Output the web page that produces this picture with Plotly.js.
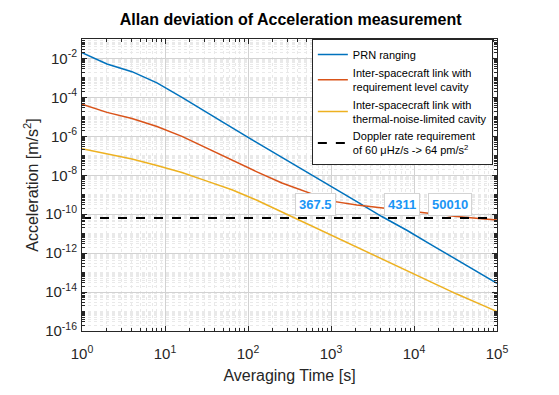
<!DOCTYPE html>
<html>
<head>
<meta charset="utf-8">
<script src="https://cdn.plot.ly/plotly-3.0.1.min.js"></script>
<style>
  html, body { margin: 0; padding: 0; background: #fff; }
  #allan_plot { width: 559px; height: 395px; }
</style>
</head>
<body>
<div id="allan_plot"></div>
<script>
// averaging times [s]
var tau = [1, 2, 4, 8, 16, 32, 64, 128, 256, 512, 1024, 2048, 4096, 8192, 16384, 32768, 65536, 100000];

// Allan deviation of acceleration [m/s^2]
var prnAdev = [2.0e-2, 5.2e-3, 2.1e-3, 5.6e-4, 1.0e-4, 1.6e-5, 2.8e-6, 4.8e-7, 8.5e-8, 1.5e-8,
               2.7e-9, 4.4e-10, 7.6e-11, 1.5e-11, 2.6e-12, 4.6e-13, 8.1e-14, 2.8e-14];
var reqCavityAdev = [4.5e-5, 1.7e-5, 8.3e-6, 3.2e-6, 1.0e-6, 2.4e-7, 6.0e-8, 1.5e-8, 4.0e-9, 1.4e-9,
                     4.7e-10, 3.0e-10, 2.1e-10, 1.45e-10, 1.0e-10, 7.6e-11, 5.8e-11, 5.0e-11];
var thermalCavityAdev = [2.3e-7, 1.2e-7, 6.8e-8, 3.2e-8, 1.4e-8, 5.0e-9, 1.8e-9, 5.2e-10, 1.3e-10, 3.2e-11,
                         8.1e-12, 2.0e-12, 5.0e-13, 1.3e-13, 3.2e-14, 7.9e-15, 2.2e-15, 1.0e-15];

// Doppler rate requirement: 60 uHz/s -> 64 pm/s^2
var reqTau = [1, 100000];
var reqLevel = [6.4e-11, 6.4e-11];

// averaging times where each curve crosses the requirement
var crossTau = [367.5, 4311, 50010];
var crossLabel = ['367.5', '4311', '50010'];
var crossAnchor = ['left', 'left', 'right'];

// tick labels
var xTickVals = [1, 10, 100, 1000, 10000, 100000];
var xTickText = ['10<sup>0</sup>', '10<sup>1</sup>', '10<sup>2</sup>', '10<sup>3</sup>', '10<sup>4</sup>', '10<sup>5</sup>'];
var yTickVals = [1e-16, 1e-14, 1e-12, 1e-10, 1e-8, 1e-6, 1e-4, 1e-2];
var yTickText = ['10<sup>-16</sup>', '10<sup>-14</sup>', '10<sup>-12</sup>', '10<sup>-10</sup>',
                 '10<sup>-8</sup>', '10<sup>-6</sup>', '10<sup>-4</sup>', '10<sup>-2</sup>'];

// minor grid positions (2..9 within each decade, plus odd decades on y)
var xMinor = [];
for (var e = 0; e < 5; e++) {
    for (var m = 2; m <= 9; m++) xMinor.push(m * Math.pow(10, e));
}
var yMinor = [];
for (var e = -16; e < -1; e++) {
    for (var m = 1; m <= 9; m++) {
        if (m === 1 && e % 2 === 0) continue;
        yMinor.push(m * Math.pow(10, e));
    }
}

var font = 'Liberation Sans, Arial, Helvetica, sans-serif';
var ink = '#262626';

var traces = [
    {
        x: tau, y: prnAdev, type: 'scatter', mode: 'lines',
        name: 'PRN ranging',
        line: { color: '#0072BD', width: 1.5 }
    },
    {
        x: tau, y: reqCavityAdev, type: 'scatter', mode: 'lines',
        name: 'Inter-spacecraft link with<br>requirement level cavity',
        line: { color: '#D95319', width: 1.5 }
    },
    {
        x: tau, y: thermalCavityAdev, type: 'scatter', mode: 'lines',
        name: 'Inter-spacecraft link with<br>thermal-noise-limited cavity',
        line: { color: '#EDB120', width: 1.5 }
    },
    {
        x: reqTau, y: reqLevel, type: 'scatter', mode: 'lines',
        name: 'Doppler rate requirement<br>of 60 \u03bcHz/s -&gt; 64 pm/s<sup>2</sup>',
        line: { color: '#000000', width: 2, dash: 'dash' }
    }
];

var annotations = crossTau.map(function(t, i) {
    return {
        x: Math.log10(t), y: Math.log10(reqLevel[0]),
        xref: 'x', yref: 'y',
        text: '<b>' + crossLabel[i] + '</b>',
        showarrow: false,
        xanchor: crossAnchor[i], yanchor: 'bottom',
        yshift: 2,
        font: { family: font, size: 13, color: '#1a95f5' },
        bgcolor: '#ffffff',
        bordercolor: '#d4d4d4',
        borderwidth: 1,
        borderpad: 3
    };
});

var axisCommon = {
    type: 'log',
    showline: true, linecolor: ink, linewidth: 1, mirror: 'ticks',
    ticks: 'inside', ticklen: 5, tickcolor: ink,
    showgrid: true, gridcolor: '#d2d2d2', gridwidth: 1,
    zeroline: false,
    tickfont: { family: font, size: 15, color: ink }
};

var layout = {
    width: 559, height: 395,
    margin: { l: 82, r: 62, t: 39, b: 64 },
    paper_bgcolor: '#ffffff', plot_bgcolor: '#ffffff',
    font: { family: font, color: ink },
    title: {
        text: '<b>Allan deviation of Acceleration measurement</b>',
        font: { family: font, size: 16, color: '#000000' },
        x: 0.52, xanchor: 'center', y: 0.952, yanchor: 'middle'
    },
    xaxis: Object.assign({}, axisCommon, {
        range: [0, 5],
        ticklabelstandoff: 9,
        tickmode: 'array', tickvals: xTickVals, ticktext: xTickText,
        minor: { tickmode: 'array', tickvals: xMinor, ticks: 'inside', ticklen: 3, tickcolor: ink,
                 showgrid: true, gridcolor: '#e9e9e9', griddash: 'dot' },
        title: { text: 'Averaging Time [s]', font: { family: font, size: 16, color: ink }, standoff: 8 }
    }),
    yaxis: Object.assign({}, axisCommon, {
        range: [-16, -1],
        ticklabelstandoff: 1,
        tickmode: 'array', tickvals: yTickVals, ticktext: yTickText,
        minor: { tickmode: 'array', tickvals: yMinor, ticks: 'inside', ticklen: 3, tickcolor: ink,
                 showgrid: true, gridcolor: '#e9e9e9', griddash: 'dot' },
        title: { text: 'Acceleration [m/s<sup>2</sup>]', font: { family: font, size: 16, color: ink }, standoff: 2 }
    }),
    legend: {
        x: 0.99, xanchor: 'right', y: 1, yanchor: 'top',
        bgcolor: '#ffffff', bordercolor: ink, borderwidth: 1,
        font: { family: font, size: 11, color: '#000000' },
        tracegroupgap: 0, itemwidth: 30
    },
    annotations: annotations
};

Plotly.newPlot('allan_plot', traces, layout, { displayModeBar: false, responsive: false });
</script>
</body>
</html>
